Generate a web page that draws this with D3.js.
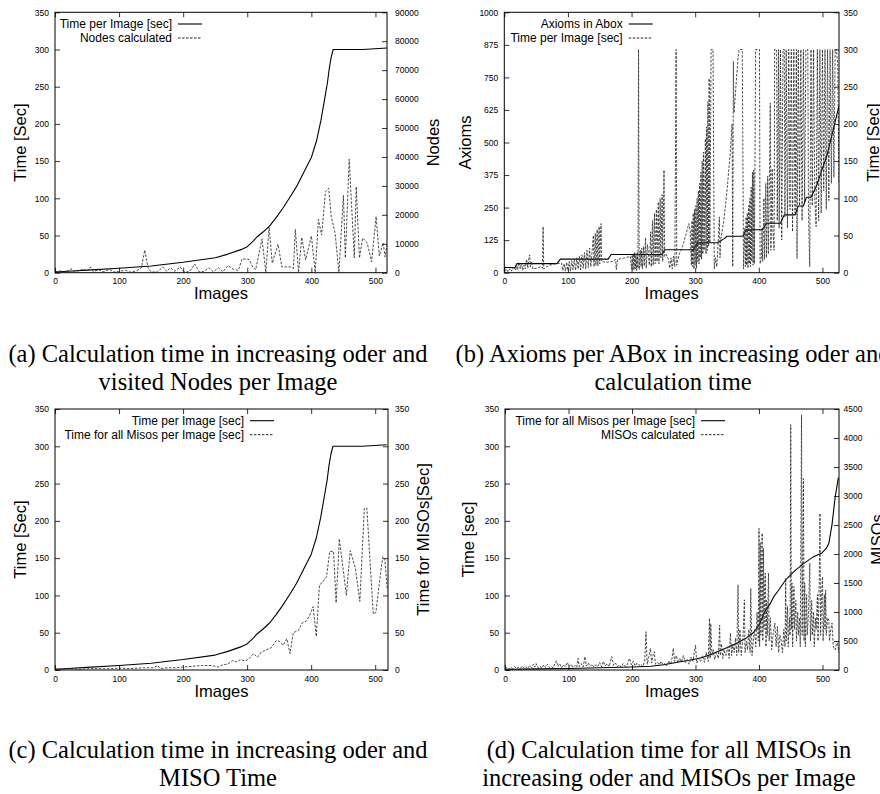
<!DOCTYPE html>
<html>
<head>
<meta charset="utf-8">
<script src="https://cdn.jsdelivr.net/npm/d3@7"></script>
<style>
  body { margin: 0; background: #fff; }
  svg text { fill: #000; }
</style>
</head>
<body>
<div id="figure"></div>
<script>
// tick values
const imageTicks = [0, 100, 200, 300, 400, 500];
const secTicks = [0, 50, 100, 150, 200, 250, 300, 350];
const nodeTicks = [0, 10000, 20000, 30000, 40000, 50000, 60000, 70000, 80000, 90000];
const axiomTicks = [0, 125, 250, 375, 500, 625, 750, 875, 1000];
const misoTicks = [0, 500, 1000, 1500, 2000, 2500, 3000, 3500, 4000, 4500];

// (a)+(c) time per image, sorted
const timeImgX = [0, 20, 50, 100, 150, 200, 250, 270, 290, 300, 310, 315, 325, 335, 345, 355, 367, 377, 390, 400, 408, 415, 420, 425, 428, 431, 434, 480, 518];
const timePerImage = [1, 2, 3.5, 6, 9, 14, 20, 25, 31, 35, 43, 48, 55, 63, 74, 86, 102, 116, 138, 155, 177, 205, 230, 255, 275, 290, 300, 300, 302];

// (a) visited nodes
const nodesX = [0, 8, 15, 22, 25, 30, 38, 45, 50, 55, 60, 68, 75, 85, 92, 100, 110, 118, 128, 135, 140, 145, 150, 160, 168, 174, 180, 187, 195, 200, 205, 212, 218, 225, 232, 240, 247, 255, 262, 270, 278, 286, 292, 303, 308, 313, 323, 329, 334, 339, 348, 354, 367, 372, 375, 380, 385, 391, 400, 406, 411, 416, 422, 427, 431, 437, 443, 450, 453, 459, 467, 470, 475, 480, 487, 494, 501, 506, 512, 515, 518];
const nodesCalc = [300, 600, 200, 900, 1400, 300, 800, 1200, 500, 2000, 400, 1000, 300, 1100, 200, 500, 800, 200, 700, 1800, 7800, 1800, 200, 300, 2000, 500, 1700, 500, 2000, 600, 200, 900, 3000, 300, 400, 1700, 300, 1700, 300, 2500, 1200, 800, 4800, 4600, 2200, 1000, 11700, 0, 15900, 3300, 9800, 2000, 2000, 1500, 15000, 0, 12200, 4400, 12700, 0, 18400, 13000, 28000, 29200, 19400, 13700, 0, 26800, 5100, 39200, 5100, 29700, 5100, 12000, 10300, 3800, 19400, 5800, 10300, 5500, 9500];

// (b) axioms per abox
const axiomX = [0, 17, 20, 83, 88, 163, 168, 248, 252, 297, 304, 335, 345, 350, 375, 380, 405, 412, 434, 440, 457, 462, 470, 475, 482, 490, 500, 507, 513, 520, 526];
const axiomsInAbox = [20, 20, 35, 35, 52, 52, 70, 70, 88, 88, 115, 115, 130, 140, 140, 165, 165, 190, 190, 222, 222, 256, 256, 290, 290, 330, 400, 450, 510, 580, 640];

// (b) time per image in abox order
const boxTimeX = [0, 3, 6, 9, 12, 15, 18, 19, 21, 23, 25, 27, 29, 31, 33, 35, 37, 39, 40, 41, 43, 45, 50, 58, 60, 61, 62, 70, 80,
  90, 92, 94, 96, 98, 100, 102, 104, 106, 108, 110, 112, 114, 116, 118, 120, 122, 124, 126, 128, 130, 132, 134, 136,
  140, 141, 143, 144, 146, 147, 149, 150, 152, 153, 160, 170, 175, 176, 178, 190, 198,
  200, 201, 202, 203, 204, 205, 206, 207, 208, 209, 210, 211, 212, 214, 215, 216, 217, 219, 220, 222, 223, 225,
  228, 230, 231, 233, 234, 236, 237, 239, 240, 242, 243, 245, 246, 248, 249, 251, 252, 254,
  258, 260, 262, 264, 266, 268, 270, 271, 275, 280, 285, 290, 292,
  294, 295, 296, 297, 298, 299, 300, 301, 302, 303, 304, 305, 306, 307, 308, 309, 310, 311, 312, 313, 314, 316, 317, 318, 319, 320, 321, 322, 323, 325, 328, 330, 332, 334, 336, 338, 339,
  340, 345, 350, 355, 358, 359, 360, 361, 364, 367, 369, 374, 376,
  378, 379, 380, 381, 382, 383, 384, 385, 386, 387, 388, 389, 390, 391, 392, 393, 395, 401, 402, 404, 405, 406, 408, 409, 411, 412, 414, 415, 417, 418, 419, 421, 422,
  424, 425, 428, 429, 431, 432, 434, 436, 438, 440, 441, 443, 445, 447, 449, 451, 453, 455, 457, 459, 460, 462, 464, 466, 468, 470, 472, 474, 477, 478, 480, 482, 484, 486, 488, 490, 492, 494, 496, 498, 500, 502, 504, 506, 508, 510, 512, 514, 516, 518, 520, 522, 524, 526];
const boxTime = [2, 5, 1, 6, 2, 8, 3, 12, 4, 14, 5, 13, 3, 10, 5, 18, 6, 22, 24, 8, 15, 5, 6, 8, 6, 62, 5, 10, 12,
  13, 3, 12, 2, 14, 3, 15, 2, 16, 4, 18, 3, 20, 5, 22, 4, 24, 6, 27, 5, 30, 7, 33, 8,
  50, 8, 53, 10, 58, 9, 62, 12, 66, 15, 14, 15, 18, 4, 18, 20, 22,
  5, 24, 3, 26, 4, 27, 5, 25, 3, 28, 6, 300, 4, 30, 8, 33, 5, 35, 9, 47, 6, 38,
  10, 55, 8, 70, 10, 80, 12, 85, 15, 95, 12, 100, 20, 105, 15, 138, 22, 25,
  18, 6, 20, 5, 22, 8, 300, 10, 25, 35, 50, 66, 58,
  10, 70, 8, 80, 5, 85, 10, 90, 6, 100, 15, 110, 12, 120, 20, 135, 18, 150, 25, 162, 30, 180, 25, 196, 30, 230, 35, 261, 40, 300, 300, 5, 20, 8, 40, 75, 20,
  44, 70, 110, 160, 200, 8, 284, 215, 250, 285, 300, 300, 5,
  60, 8, 75, 10, 80, 6, 90, 12, 100, 8, 115, 15, 135, 10, 138, 12, 300, 300, 12, 20, 60, 15, 100, 18, 120, 20, 130, 25, 150, 228, 30, 140, 60,
  30, 300, 300, 70, 300, 60, 300, 44, 300, 300, 75, 300, 60, 300, 85, 300, 55, 300, 80, 300, 19, 300, 90, 300, 70, 300, 95, 300, 300, 80, 8, 300, 90, 300, 100, 62, 300, 70, 300, 80, 300, 110, 300, 85, 300, 97, 300, 120, 300, 128, 300, 300, 280, 120];

// (c) time for all misos per image
const misoTimeX = [0, 20, 40, 60, 80, 100, 120, 140, 155, 160, 165, 175, 190, 200, 215, 230, 245, 255, 262, 270, 278, 283, 290, 297, 303, 310, 316, 322, 330, 338, 345, 350, 356, 362, 367, 372, 380, 386, 393, 398, 403, 408, 413, 418, 424, 429, 435, 439, 444, 450, 455, 461, 469, 476, 483, 487, 497, 501, 509, 512, 515, 519];
const misoTime = [1, 1.5, 1, 2, 1.5, 2.5, 2, 3, 3, 6, 2, 3, 3, 4, 5, 6, 6, 4, 7, 8, 13, 11, 14, 12, 15, 22, 17, 24, 27, 30, 39, 39, 33, 42, 22, 50, 53, 63, 66, 74, 85, 45, 114, 118, 125, 159, 159, 90, 176, 135, 100, 160, 137, 92, 217, 217, 75, 77, 134, 152, 148, 107];

// (d) time for all misos, sorted
const misoAllX = [0, 50, 100, 150, 200, 230, 250, 276, 290, 302, 312, 325, 339, 352, 365, 380, 391, 400, 409, 417, 423, 430, 443, 455, 469, 486, 499, 506, 510, 515, 520, 525];
const misoAllTime = [1, 1.5, 2, 3, 4, 5, 7, 11, 13, 15, 17, 21, 26, 31, 36, 43, 50, 60, 78, 88, 98, 106, 122, 132, 142, 152, 157, 163, 170, 195, 232, 258];

// (d) misos calculated
const misoCountX = [0, 3, 6, 9, 12, 15, 18, 21, 24, 27, 30, 33, 36, 39, 42, 45, 47, 49, 52, 55, 58, 61, 64, 67, 70, 73, 76, 79, 81, 83, 86, 89, 92, 95, 98, 101, 104, 107, 110, 113, 115, 117, 120, 123, 126, 128, 131, 134, 137, 140, 143, 146, 149, 152, 155, 158, 161, 164, 168, 171, 174, 177, 180, 183, 186, 189, 192, 196, 199, 202, 205, 208, 211, 214, 217, 220, 222, 224, 226, 229, 231, 233, 235, 237, 240, 243, 246, 249, 252, 255, 258, 261, 263, 265, 267, 270, 272, 275, 278, 281, 284, 287, 290, 293, 296, 298, 300, 302, 305, 308, 311, 314, 317, 320, 322, 323, 324, 326, 328, 330, 333, 336, 338, 339, 341, 343, 345, 348, 351, 353, 355, 357, 359, 361, 363, 365, 367, 368, 370, 372, 375, 377, 378, 380, 382, 384, 386, 387, 389, 391, 393, 395, 397, 399, 400, 401, 402, 403, 404, 405, 406, 407, 408, 409, 410, 411, 412, 413, 415, 416, 418, 420, 422, 425, 427, 429, 431, 433, 435, 437, 439, 441, 442, 443, 445, 446, 448, 449, 450, 451, 452, 453, 455, 456, 458, 459, 461, 462, 464, 465, 467, 468, 470, 471, 472, 473, 475, 476, 478, 480, 481, 483, 484, 486, 487, 489, 490, 492, 493, 495, 496, 497, 499, 500, 501, 503, 504, 505, 506, 508, 510, 511, 513, 515, 517, 520, 523, 526];
const misoCount = [20, 40, 15, 50, 25, 60, 30, 45, 20, 70, 30, 55, 25, 80, 40, 100, 50, 110, 40, 70, 30, 90, 45, 100, 40, 60, 35, 120, 160, 60, 110, 40, 90, 50, 130, 60, 100, 45, 80, 50, 200, 60, 110, 50, 230, 70, 120, 60, 100, 50, 90, 60, 130, 55, 150, 70, 110, 60, 230, 80, 120, 60, 90, 50, 110, 60, 80, 200, 90, 150, 70, 120, 80, 100, 60, 150, 660, 100, 200, 374, 120, 250, 316, 100, 130, 90, 150, 80, 120, 70, 160, 100, 200, 375, 150, 250, 120, 200, 140, 250, 130, 180, 100, 220, 150, 300, 430, 120, 200, 150, 250, 130, 300, 150, 890, 200, 800, 250, 350, 180, 300, 200, 775, 250, 450, 200, 350, 250, 400, 200, 635, 250, 450, 300, 550, 250, 1470, 300, 700, 250, 600, 1210, 300, 500, 350, 700, 300, 1410, 250, 500, 700, 400, 1000, 500, 2440, 400, 2200, 600, 1800, 2360, 500, 2100, 700, 1500, 1670, 400, 1200, 600, 1670, 500, 900, 350, 600, 810, 400, 750, 300, 600, 500, 300, 700, 400, 1580, 500, 1100, 400, 900, 600, 4230, 700, 1500, 400, 1440, 700, 1200, 500, 1000, 600, 900, 400, 4400, 600, 3300, 500, 1500, 400, 1300, 600, 1000, 1840, 500, 1200, 600, 1000, 400, 900, 700, 1300, 500, 1600, 2700, 600, 1400, 1610, 500, 1300, 700, 1380, 600, 900, 860, 500, 700, 810, 400, 345, 500, 300];

const captions = [
  ["(a) Calculation time in increasing oder and", "visited Nodes per Image"],
  ["(b) Axioms per ABox in increasing oder and", "calculation time"],
  ["(c) Calculation time in increasing oder and", "MISO Time"],
  ["(d) Calculation time for all MISOs in", "increasing oder and MISOs per Image"]
];

const panels = [
  { id: "a", left: 55, right: 387, top: 12.3, bottom: 272.7, xMax: 518,
    leftMax: 350, leftTicks: secTicks, rightMax: 90000, rightTicks: nodeTicks, rightPad: 8,
    leftLabel: "Time [Sec]", leftLabelX: 20, rightLabel: "Nodes", rightLabelX: 433,
    legendX: 172,
    series: [
      { name: "Time per Image [sec]", xs: timeImgX, ys: timePerImage, axis: "left", dashed: false },
      { name: "Nodes calculated", xs: nodesX, ys: nodesCalc, axis: "right", dashed: true }
    ],
    caption: captions[0], captionX: 218, captionY: 362 },
  { id: "b", left: 504.3, right: 839, top: 12.3, bottom: 272.7, xMax: 526,
    leftMax: 1000, leftTicks: axiomTicks, rightMax: 350, rightTicks: secTicks, rightPad: 4.5,
    leftLabel: "Axioms", leftLabelX: 465, rightLabel: "Time [Sec]", rightLabelX: 873,
    legendX: 622.7,
    series: [
      { name: "Axioms in Abox", xs: axiomX, ys: axiomsInAbox, axis: "left", dashed: false },
      { name: "Time per Image [sec]", xs: boxTimeX, ys: boxTime, axis: "right", dashed: true }
    ],
    caption: captions[1], captionX: 673, captionY: 362 },
  { id: "c", left: 55, right: 388, top: 409, bottom: 670, xMax: 520,
    leftMax: 350, leftTicks: secTicks, rightMax: 350, rightTicks: secTicks, rightPad: 7,
    leftLabel: "Time [Sec]", leftLabelX: 20, rightLabel: "Time for MISOs[Sec]", rightLabelX: 423,
    legendX: 244,
    series: [
      { name: "Time per Image [sec]", xs: timeImgX, ys: timePerImage, axis: "left", dashed: false },
      { name: "Time for all Misos per Image [sec]", xs: misoTimeX, ys: misoTime, axis: "right", dashed: true }
    ],
    caption: captions[2], captionX: 218, captionY: 758 },
  { id: "d", left: 505, right: 839, top: 409, bottom: 670, xMax: 526,
    leftMax: 350, leftTicks: secTicks, rightMax: 4500, rightTicks: misoTicks, rightPad: 4.5,
    leftLabel: "Time [sec]", leftLabelX: 468, rightLabel: "MISOs", rightLabelX: 877,
    legendX: 695,
    series: [
      { name: "Time for all Misos per Image [sec]", xs: misoAllX, ys: misoAllTime, axis: "left", dashed: false },
      { name: "MISOs calculated", xs: misoCountX, ys: misoCount, axis: "right", dashed: true }
    ],
    caption: captions[3], captionX: 669, captionY: 758 }
];

const W = 880, H = 794;
const sans = "'Liberation Sans', Arial, sans-serif";
const serif = "'Liberation Serif', 'Times New Roman', serif";

const svg = d3.select("#figure").append("svg")
  .attr("width", W)
  .attr("height", H)
  .style("font-family", sans);

const tickLen = 5;
const dash = "2.5,1.5";

function styleAxis(sel) {
  sel.select(".domain").remove();
  sel.selectAll(".tick line").attr("stroke", "#000").attr("stroke-width", 0.8);
  sel.selectAll("text")
    .attr("fill", "#000")
    .attr("font-size", 8.5)
    .style("font-family", sans);
}

function drawPanel(p) {
  const x = d3.scaleLinear().domain([0, p.xMax]).range([p.left, p.right]);
  const yLeft = d3.scaleLinear().domain([0, p.leftMax]).range([p.bottom, p.top]);
  const yRight = d3.scaleLinear().domain([0, p.rightMax]).range([p.bottom, p.top]);

  const g = svg.append("g").attr("class", "panel-" + p.id);

  g.append("clipPath").attr("id", "clip-" + p.id)
    .append("rect")
    .attr("x", p.left).attr("y", p.top - 1)
    .attr("width", p.right - p.left).attr("height", p.bottom - p.top + 2);

  const fmt = d3.format("d");
  g.append("g").attr("transform", `translate(0,${p.bottom})`)
    .call(d3.axisBottom(x).tickValues(imageTicks).tickFormat(fmt).tickSize(-tickLen).tickPadding(5.5))
    .call(styleAxis);
  g.append("g").attr("transform", `translate(0,${p.top})`)
    .call(d3.axisTop(x).tickValues(imageTicks).tickFormat("").tickSize(-tickLen))
    .call(styleAxis);
  g.append("g").attr("transform", `translate(${p.left},0)`)
    .call(d3.axisLeft(yLeft).tickValues(p.leftTicks).tickFormat(fmt).tickSize(-tickLen).tickPadding(6))
    .call(styleAxis);
  g.append("g").attr("transform", `translate(${p.right},0)`)
    .call(d3.axisRight(yRight).tickValues(p.rightTicks).tickFormat(fmt).tickSize(-tickLen).tickPadding(p.rightPad))
    .call(styleAxis);

  // the data lines
  p.series.forEach(s => {
    const yS = s.axis === "right" ? yRight : yLeft;
    const line = d3.line().x(d => x(d[0])).y(d => yS(d[1]));
    g.append("path")
      .datum(d3.zip(s.xs, s.ys))
      .attr("clip-path", `url(#clip-${p.id})`)
      .attr("fill", "none")
      .attr("stroke", s.dashed ? "#2a2a2a" : "#000")
      .attr("stroke-width", s.dashed ? 0.85 : 1.1)
      .attr("stroke-dasharray", s.dashed ? dash : null)
      .attr("stroke-linejoin", "round")
      .attr("d", line);
  });

  // frame
  g.append("rect")
    .attr("x", p.left).attr("y", p.top)
    .attr("width", p.right - p.left).attr("height", p.bottom - p.top)
    .attr("fill", "none").attr("stroke", "#000").attr("stroke-width", 1);

  // key
  p.series.forEach((s, i) => {
    const ly = p.top + 11.7 + i * 14;
    g.append("text")
      .attr("x", p.legendX).attr("y", ly).attr("dy", "0.35em")
      .attr("text-anchor", "end").attr("font-size", 12)
      .text(s.name);
    g.append("line")
      .attr("x1", p.legendX + 6).attr("x2", p.legendX + 30)
      .attr("y1", ly).attr("y2", ly)
      .attr("stroke", "#000").attr("stroke-width", s.dashed ? 0.85 : 1.1)
      .attr("stroke-dasharray", s.dashed ? dash : null);
  });

  // axis titles
  const midY = (p.top + p.bottom) / 2;
  g.append("text")
    .attr("x", (p.left + p.right) / 2).attr("y", p.bottom + 26.5)
    .attr("text-anchor", "middle").attr("font-size", 16.5)
    .text("Images");
  g.append("text")
    .attr("transform", `translate(${p.leftLabelX},${midY}) rotate(-90)`)
    .attr("dy", "0.35em").attr("text-anchor", "middle").attr("font-size", 16.5)
    .text(p.leftLabel);
  g.append("text")
    .attr("transform", `translate(${p.rightLabelX},${midY}) rotate(-90)`)
    .attr("dy", "0.35em").attr("text-anchor", "middle").attr("font-size", 16.5)
    .text(p.rightLabel);

  // caption under the plot
  p.caption.forEach((t, i) => {
    g.append("text")
      .attr("x", p.captionX).attr("y", p.captionY + i * 28)
      .attr("text-anchor", "middle")
      .style("font-family", serif)
      .attr("font-size", 24.5)
      .text(t);
  });
}

panels.forEach(drawPanel);
</script>
</body>
</html>
